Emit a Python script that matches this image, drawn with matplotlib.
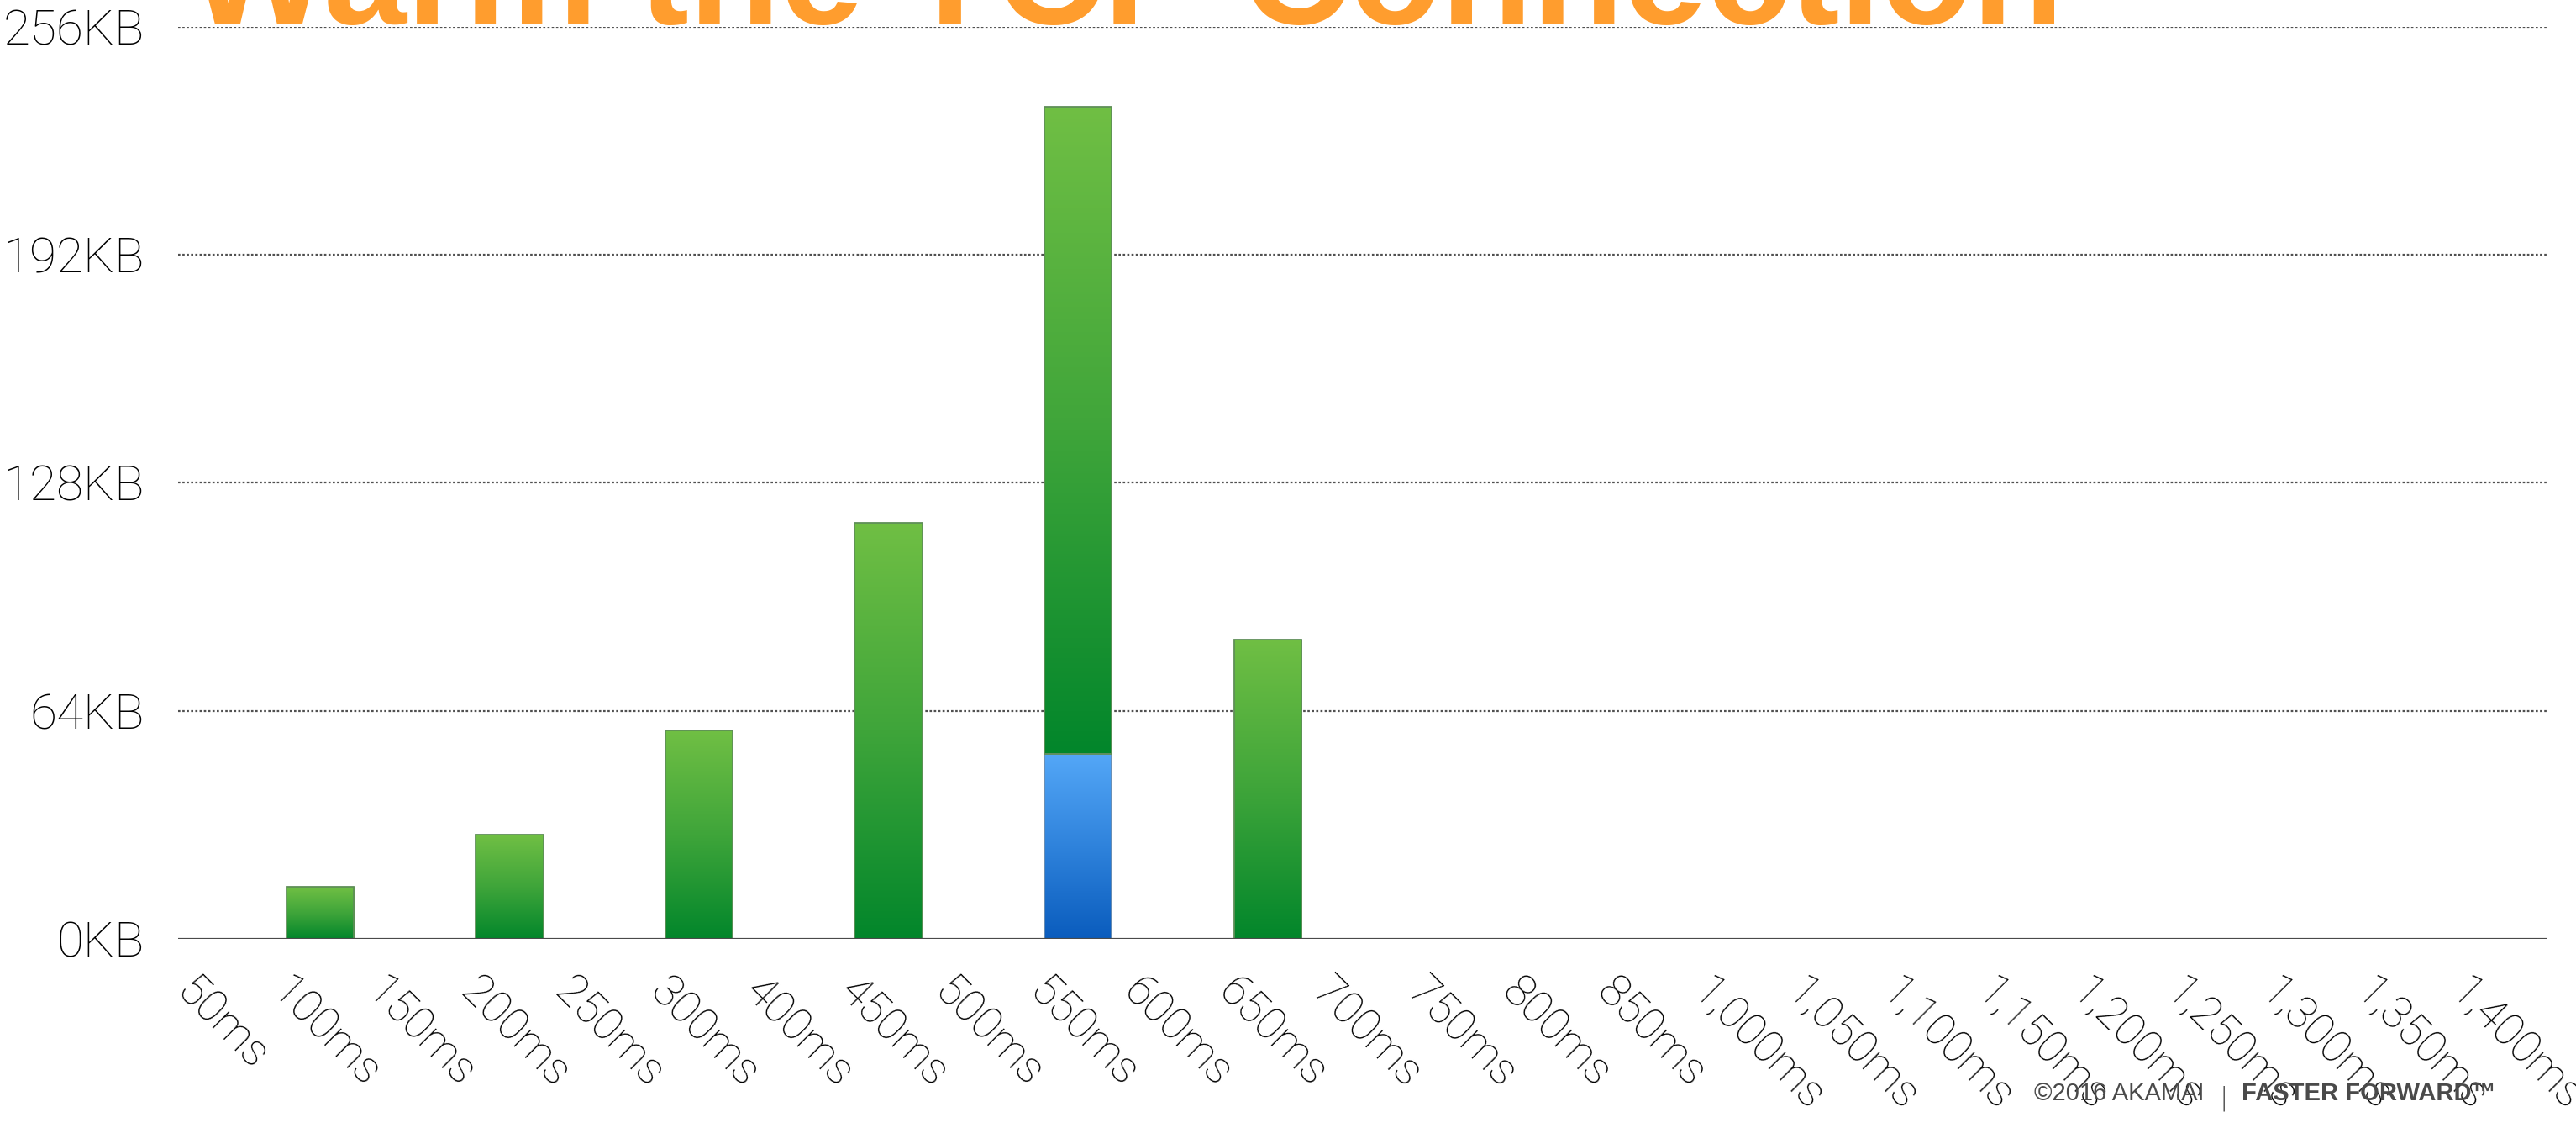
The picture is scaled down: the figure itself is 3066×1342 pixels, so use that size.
import numpy as np
import matplotlib
matplotlib.use("Agg")
import matplotlib.pyplot as plt
import matplotlib.transforms as mtransforms
from matplotlib.colors import LinearSegmentedColormap

# round-trip times on the category axis (no 350ms, 900ms or 950ms slots)
labels = ['50ms', '100ms', '150ms', '200ms', '250ms', '300ms', '400ms', '450ms',
          '500ms', '550ms', '600ms', '650ms', '700ms', '750ms', '800ms', '850ms',
          '1,000ms', '1,050ms', '1,100ms', '1,150ms', '1,200ms', '1,250ms',
          '1,300ms', '1,350ms', '1,400ms']
# bytes in flight per round trip, KB (green = total, blue = part already warm)
green_kb = [0, 14.6, 0, 29.2, 0, 58.4, 0, 116.8, 0, 233.6, 0, 84, 0,
            0, 0, 0, 0, 0, 0, 0, 0, 0, 0, 0, 0]
blue_kb = [0, 0, 0, 0, 0, 0, 0, 0, 0, 52, 0, 0, 0,
           0, 0, 0, 0, 0, 0, 0, 0, 0, 0, 0, 0]
yticks = [0, 64, 128, 192, 256]

title = 'Warm the TCP Connection'
LABEL_FONT = 'Roboto'

greens = LinearSegmentedColormap.from_list('greens', ['#02862B', '#3FA53A', '#70BF44'])
blues = LinearSegmentedColormap.from_list('blues', ['#0A5CBD', '#2F83DC', '#54A7F7'])
ramp = np.linspace(0, 1, 256).reshape(-1, 1)


def gradient_bar(ax, x, bottom, top, width, cmap, edge):
    patch = ax.bar(x, top - bottom, width, bottom=bottom, facecolor='none',
                   edgecolor=edge, linewidth=1.3, zorder=4)[0]
    im = ax.imshow(ramp, extent=[x - width / 2, x + width / 2, bottom, top],
                   origin='lower', aspect='auto', cmap=cmap, zorder=3)
    im.set_clip_path(patch)


fig = plt.figure(figsize=(30.66, 13.42), dpi=100)
ax = fig.add_axes([0.0691, 0.16766, 0.9194, 0.8085])

bar_w = 0.71
for i, (g, b) in enumerate(zip(green_kb, blue_kb)):
    if b > 0:
        gradient_bar(ax, i, 0, b, bar_w, blues, '#6f8fb0')
    if g > 0:
        gradient_bar(ax, i, b, g, bar_w, greens, '#5f8f58')

ax.set_xlim(-0.5, len(labels) - 0.5)
ax.set_ylim(0, 256)

# dotted grid behind the bars, solid baseline at 0
for v in yticks[1:]:
    ax.axhline(v, color='#505050', lw=1.6, ls=(0, (1.2, 1.1)), zorder=1)
ax.axhline(0, color='#4a4a4a', lw=2.3, zorder=5)

for s in ax.spines.values():
    s.set_visible(False)

ax.set_yticks(yticks)
ax.set_yticklabels([f'{v}KB' for v in yticks])
ax.tick_params(axis='y', length=0, pad=29, labelsize=42, labelcolor='#000000')

ax.set_xticks(range(len(labels)))
ax.set_xticklabels(labels)
ax.tick_params(axis='x', length=0, pad=0, labelsize=38, labelcolor='#000000')
shift = mtransforms.ScaledTranslation(-0.33, -0.37, fig.dpi_scale_trans)
for lab in ax.get_xticklabels():
    lab.set_rotation(-45)
    lab.set_rotation_mode('anchor')
    lab.set_ha('left')
    lab.set_va('top')
    lab.set_transform(lab.get_transform() + shift)
for lab in ax.get_xticklabels() + ax.get_yticklabels():
    lab.set_fontfamily(LABEL_FONT)
    lab.set_fontweight('light')

# slide heading, pushed up past the top edge
fig.text(0.073, 1 - 28 / 1342, title, color='#FF9D2E', fontsize=128,
         fontweight='bold', family='Liberation Sans', va='baseline', ha='left')

# footer
fig.text(0.7896, 0.0246, '©2016 AKAMAI', color='#4a4a4a', fontsize=21,
         family='Liberation Sans', va='baseline', ha='left', zorder=10)
fig.text(0.8633, 0.0246 - 0.004, '|', color='#4a4a4a', fontsize=22,
         family='DejaVu Sans', fontweight='light', va='baseline', ha='center', zorder=10)
fig.text(0.8702, 0.0246, 'FASTER FORWARD™', color='#4a4a4a', fontsize=21,
         family='Liberation Sans', fontweight='bold', va='baseline', ha='left', zorder=10)

fig.savefig('out.png', dpi=100)
